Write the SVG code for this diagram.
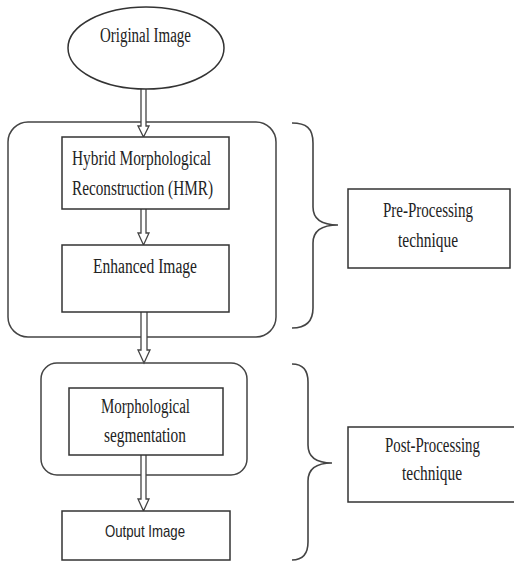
<svg xmlns="http://www.w3.org/2000/svg" width="514" height="562" viewBox="0 0 514 562">
<style>
.box{fill:#fff;stroke:#333;stroke-width:1.5}
.grp{fill:none;stroke:#444;stroke-width:1.5}
.arr{fill:#fff;stroke:#444;stroke-width:1.3;stroke-linejoin:miter}
.br{fill:none;stroke:#444;stroke-width:1.6}
.t{font-family:"Liberation Serif","Times New Roman",serif;font-size:20px;fill:#222}
.s{font-family:"Liberation Sans",Arial,sans-serif;font-size:17px;fill:#222}
</style>
<rect width="514" height="562" fill="#fff"/>
<g id="pre-group"><rect class="grp" x="8" y="122" width="268" height="215" rx="20"/></g>
<g id="post-group"><rect class="grp" x="41" y="363" width="206" height="112" rx="16"/></g>
<g id="connectors">
<path class="arr" d="M141,88 V126 H138 L143.5,137 L149,126 H146 V88"/>
<path class="arr" d="M141,209 V233 H138 L143.5,245 L149,233 H146 V209"/>
<path class="arr" d="M141,312 V350 H138 L144,363 L150,350 H147 V312"/>
<path class="arr" d="M141,455 V499 H138 L143.5,511 L149,499 H146 V455"/>
</g>
<g id="original-image">
<ellipse class="box" cx="146" cy="48" rx="78" ry="41"/>
<text class="t" x="100" y="42" textLength="91" lengthAdjust="spacingAndGlyphs">Original Image</text>
</g>
<g id="hmr">
<rect class="box" x="62" y="137" width="167" height="72"/>
<text class="t" x="72" y="165" textLength="139" lengthAdjust="spacingAndGlyphs">Hybrid  Morphological</text>
<text class="t" x="72" y="195" textLength="141" lengthAdjust="spacingAndGlyphs">Reconstruction  (HMR)</text>
</g>
<g id="enhanced-image">
<rect class="box" x="62" y="245" width="167" height="67"/>
<text class="t" x="93" y="273" textLength="104" lengthAdjust="spacingAndGlyphs">Enhanced Image</text>
</g>
<g id="morphological-segmentation">
<rect class="box" x="69" y="388" width="154" height="67"/>
<text class="t" x="101" y="413" textLength="89" lengthAdjust="spacingAndGlyphs">Morphological</text>
<text class="t" x="104" y="442" textLength="82" lengthAdjust="spacingAndGlyphs">segmentation</text>
</g>
<g id="output-image">
<rect class="box" x="62" y="511" width="168" height="49"/>
<text class="s" x="105" y="537" textLength="80" lengthAdjust="spacingAndGlyphs">Output Image</text>
</g>
<g id="pre-brace">
<path class="br" d="M292,123 C306,123 313,128 313,143 V207 C313,219 322,225 338,225 C322,225 313,231 313,243 V308 C313,322 306,328 292,328"/>
</g>
<g id="post-brace">
<path class="br" d="M292,364 C302,364 308,369 308,382 V445 C308,457 316,463 332,463 C316,463 308,469 308,481 V542 C308,555 302,560 292,560"/>
</g>
<g id="pre-processing">
<rect class="box" x="348" y="189" width="162" height="79"/>
<text class="t" x="383" y="217" textLength="90" lengthAdjust="spacingAndGlyphs">Pre-Processing</text>
<text class="t" x="398" y="247" textLength="60" lengthAdjust="spacingAndGlyphs">technique</text>
</g>
<g id="post-processing">
<rect class="box" x="348" y="427" width="172" height="75"/>
<text class="t" x="385" y="452" textLength="95" lengthAdjust="spacingAndGlyphs">Post-Processing</text>
<text class="t" x="402" y="480" textLength="60" lengthAdjust="spacingAndGlyphs">technique</text>
</g>
</svg>
